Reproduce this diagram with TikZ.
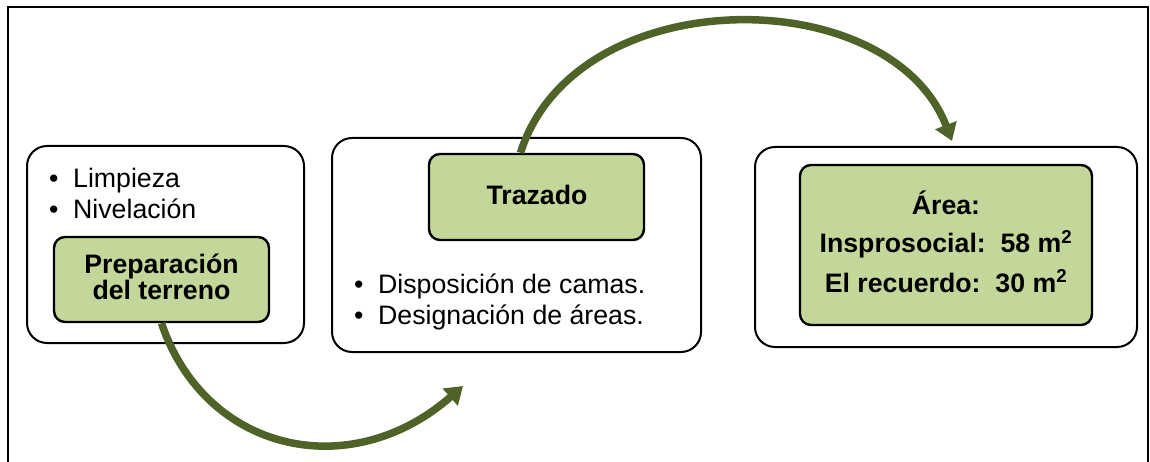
\documentclass[tikz,border=0pt]{standalone}
\usepackage{fontspec}
\setmainfont{Liberation Sans}
\usetikzlibrary{arrows.meta}
\definecolor{greenfill}{HTML}{C4D79B}
\definecolor{olivearrow}{HTML}{4F6228}
\tikzset{
  outerbox/.style={draw=black, line width=2pt, rounded corners=20pt, fill=white, inner sep=0pt},
  greenbox/.style={draw=black, line width=2.4pt, rounded corners=11pt, fill=greenfill, inner sep=0pt},
  txt/.style={inner sep=0pt, font=\fontsize{26.7}{30}\selectfont},
  btxt/.style={inner sep=0pt, font=\fontsize{26.7}{30}\selectfont\bfseries},
  flowarrow/.style={draw=olivearrow, line width=7.5pt, -{Triangle[length=17pt,width=22pt]}},
}
\newcommand{\itm}[1]{\makebox[24pt][l]{•}#1}
\begin{document}
\begin{tikzpicture}[x=1pt,y=-1pt]
\useasboundingbox (0,0) rectangle (1150,462);
% outer frame
\draw[line width=2pt] (8,480) -- (8,7) -- (1148,7) -- (1148,480);

% outer boxes
\node[outerbox, minimum width=277pt, minimum height=197pt] (b1) at (165.5,244.5) {};
\node[outerbox, minimum width=369pt, minimum height=214pt] (b2) at (516.5,245) {};
\node[outerbox, minimum width=382pt, minimum height=200pt] (b3) at (946,247) {};

% green boxes
\node[greenbox, minimum width=215pt, minimum height=85pt] (g1) at (161.5,279.5) {};
\node[greenbox, minimum width=215pt, minimum height=86pt] (g2) at (536.5,197) {};
\node[greenbox, minimum width=292pt, minimum height=160pt] (g3) at (946,245) {};

% box 1 texts
\node[txt, anchor=base west] (l1) at (49,188) {\itm{Limpieza}};
\node[txt, anchor=base west] (l2) at (49,219) {\itm{Nivelación}};
\node[btxt, anchor=base] (p1) at (161.5,273) {Preparación};
\node[btxt, anchor=base] (p2) at (161.5,299) {del terreno};

% box 2 texts
\node[btxt, anchor=base] (t1) at (537,205) {Trazado};
\node[txt, anchor=base west] (d1) at (354,293) {\itm{Disposición de camas.}};
\node[txt, anchor=base west] (d2) at (354,324) {\itm{Designación de áreas.}};

% box 3 texts
\node[btxt, anchor=base] (a1) at (946,215) {Área:};
\node[btxt, anchor=base] (a2) at (946,253) {Insprosocial:\ \ 58 m\textsuperscript{2}};
\node[btxt, anchor=base] (a3) at (946,292) {El recuerdo:\ \ 30 m\textsuperscript{2}};

% arrows
\coordinate (e1) at (463,386);
\coordinate (e2) at (952,141);
\draw[flowarrow] (g1.south) .. controls (205,452) and (350,485) .. (e1);
\draw[flowarrow] ([xshift=-16pt]g2.north) .. controls (575,-20) and (890,-20) .. (e2);
\end{tikzpicture}
\end{document}
